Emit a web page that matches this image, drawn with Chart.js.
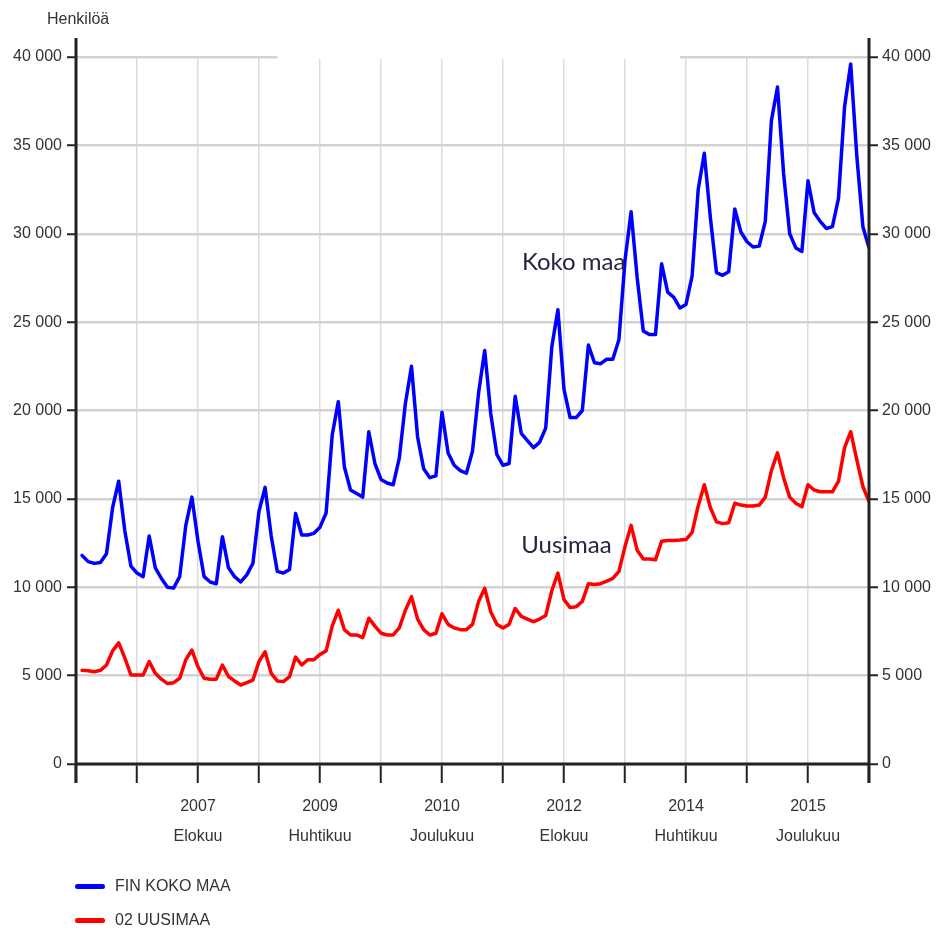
<!DOCTYPE html>
<html>
<head>
<meta charset="utf-8">
<script src="https://cdn.jsdelivr.net/npm/chart.js@4.4.1/dist/chart.umd.min.js"></script>
<style>
  html, body { margin: 0; background: #fff; }
  #wrap { position: relative; width: 937px; height: 930px; }
  #unit {
    position: absolute; left: 47px; top: 10px;
    font: 16px 'Liberation Sans', Arial, sans-serif;
    color: #333;
  }
  #legend { position: absolute; left: 75px; top: 869px; }
  .item {
    display: flex; align-items: center; height: 34px;
    font: 16px 'Liberation Sans', Arial, sans-serif;
    color: #333;
  }
  .swatch { width: 30px; height: 5px; border-radius: 3px; margin-right: 10px; }
</style>
</head>
<body>
<div id="wrap">
  <canvas id="chart" width="937" height="930"></canvas>
  <div id="unit">Henkilöä</div>
  <div id="legend"></div>
</div>
<script>
// kuukaudet: 1 = tammikuu 2006 ... 130 = lokakuu 2016 (0 = joulukuu 2005)
const firstMonth = 1;

const seriesNames = ['FIN KOKO MAA', '02 UUSIMAA'];
const seriesColors = ['#0000ff', '#ff0000'];

const kokoMaa = [
  11800, 11450, 11350, 11400, 11900, 14500, 16000, 13200, 11200, 10800, 10600, 12900,
  11100, 10500, 10000, 9950, 10600, 13500, 15100, 12600, 10600, 10300, 10200, 12860,
  11100, 10600, 10300, 10700, 11350, 14300, 15650, 12900, 10900, 10800, 11000, 14180,
  12960, 12960, 13050, 13400, 14200, 18600, 20500, 16800, 15500, 15300, 15100, 18800,
  17000, 16100, 15900, 15800, 17300, 20400, 22500, 18500, 16700, 16200, 16300, 19900,
  17600, 16900, 16600, 16450, 17700, 21000, 23400, 19800, 17500, 16900, 17000, 20800,
  18700, 18300, 17900, 18200, 19000, 23600, 25700, 21200, 19600, 19600, 20000, 23700,
  22700, 22650, 22900, 22900, 24000, 28500, 31250, 27500, 24500, 24300, 24300, 28300,
  26700, 26400, 25800, 26000, 27600, 32500, 34550, 30900, 27800, 27650, 27850, 31400,
  30100, 29550, 29250, 29300, 30700, 36400, 38300, 33400, 30000, 29200, 29000, 33000,
  31200, 30700, 30300, 30400, 32000, 37200, 39600, 34400, 30400, 29200
];

const uusimaa = [
  5300, 5280, 5220, 5300, 5600, 6400, 6850, 6000, 5040, 5040, 5040, 5800,
  5130, 4800, 4550, 4600, 4850, 5900, 6450, 5500, 4850, 4800, 4800, 5600,
  4950, 4700, 4470, 4600, 4750, 5800, 6350, 5130, 4700, 4660, 4940, 6050,
  5600, 5900, 5900, 6200, 6400, 7800, 8700, 7600, 7300, 7300, 7150, 8250,
  7800, 7400, 7300, 7300, 7700, 8700, 9470, 8200, 7600, 7300, 7400, 8500,
  7900, 7700, 7600, 7600, 7900, 9200, 9940, 8600, 7900, 7700, 7900, 8800,
  8350, 8200, 8050, 8200, 8400, 9800, 10800, 9300, 8850, 8900, 9200, 10200,
  10150, 10200, 10350, 10500, 10900, 12300, 13500, 12100, 11600, 11600, 11550, 12600,
  12650, 12650, 12670, 12700, 13100, 14600, 15800, 14500, 13700, 13600, 13650, 14750,
  14650, 14600, 14600, 14650, 15100, 16600, 17600, 16200, 15100, 14750, 14550, 15800,
  15500, 15400, 15400, 15400, 16000, 17900, 18800, 17200, 15700, 14850
];

// x-akselin nimetyt kohdat
const xLabelPos = [20, 40, 60, 80, 100, 120];
const xLabelYear = ['2007', '2009', '2010', '2012', '2014', '2015'];
const xLabelMonth = ['Elokuu', 'Huhtikuu', 'Joulukuu', 'Elokuu', 'Huhtikuu', 'Joulukuu'];

const yTicks = [0, 5000, 10000, 15000, 20000, 25000, 30000, 35000, 40000];

// tekstit kuvan sisällä (kuukausi, henkilöä)
const notes = [
  { text: 'Koko maa', x: 73.1, y: 28400 },
  { text: 'Uusimaa', x: 73.0, y: 12400 }
];

// ylin ruudukkoviiva puuttuu tältä väliltä (kuukaudet)
const topGridGap = [33, 99];

const labelFont = "'Liberation Sans', Arial, sans-serif";

const toPoints = arr => arr.map((v, k) => ({ x: firstMonth + k, y: v }));
const fmt = v => String(v).replace(/\B(?=(\d{3})+(?!\d))/g, ' ');

/**
 * Akselien viivat jatkuvat hieman piirtoalueen yli, lisäksi tekstit
 */
const overlay = {
  id: 'overlay',
  beforeDatasetsDraw(chart) {
    const { ctx, scales } = chart;
    const yTop = scales.y.getPixelForValue(40000);
    ctx.save();
    ctx.strokeStyle = '#fff';
    ctx.lineWidth = 4;
    ctx.beginPath();
    ctx.moveTo(scales.x.getPixelForValue(topGridGap[0]), yTop);
    ctx.lineTo(scales.x.getPixelForValue(topGridGap[1]), yTop);
    ctx.stroke();
    ctx.restore();
  },
  afterDraw(chart) {
    const { ctx, chartArea: a, scales } = chart;
    ctx.save();
    ctx.strokeStyle = '#222';
    ctx.lineWidth = 3;
    ctx.beginPath();
    ctx.moveTo(a.left, a.top - 19);
    ctx.lineTo(a.left, a.bottom + 19);
    ctx.moveTo(a.right, a.top - 19);
    ctx.lineTo(a.right, a.bottom + 19);
    ctx.moveTo(a.left, a.bottom);
    ctx.lineTo(a.right, a.bottom);
    ctx.stroke();

    ctx.fillStyle = '#2b2340';
    ctx.font = "24px Lato, 'Open Sans', sans-serif";
    ctx.textAlign = 'left';
    ctx.textBaseline = 'middle';
    notes.forEach(n => {
      ctx.fillText(n.text, scales.x.getPixelForValue(n.x), scales.y.getPixelForValue(n.y));
    });
    ctx.restore();
  }
};

const yScale = (position, width, padding) => ({
  position,
  min: 0,
  max: 40000,
  afterFit(s) { s.width = width; },
  afterBuildTicks(s) { s.ticks = yTicks.map(v => ({ value: v })); },
  ticks: {
    padding,
    color: '#333',
    font: { family: labelFont, size: 16 },
    callback: v => fmt(v)
  },
  grid: {
    drawOnChartArea: position === 'left',
    color: '#d2d2d2',
    lineWidth: 2.5,
    tickColor: '#222',
    tickLength: 9,
    tickWidth: 2
  },
  border: { display: false }
});

new Chart(document.getElementById('chart'), {
  type: 'line',
  data: {
    datasets: [
      { label: seriesNames[0], data: toPoints(kokoMaa), borderColor: seriesColors[0] },
      { label: seriesNames[1], data: toPoints(uusimaa), borderColor: seriesColors[1] }
    ]
  },
  options: {
    responsive: false,
    animation: false,
    layout: { padding: { top: 57, left: 0, right: 0, bottom: 0 } },
    elements: {
      line: { borderWidth: 3.5, tension: 0, borderJoinStyle: 'round', borderCapStyle: 'round' },
      point: { radius: 0 }
    },
    plugins: { legend: { display: false }, tooltip: { enabled: false } },
    scales: {
      x: {
        type: 'linear',
        min: 0,
        max: 130,
        afterFit(s) { s.height = 166; },
        ticks: {
          stepSize: 10,
          autoSkip: false,
          maxRotation: 0,
          padding: 9,
          color: '#333',
          font: { family: labelFont, size: 16, lineHeight: 1.85 },
          callback: v => {
            const k = xLabelPos.indexOf(v);
            return k < 0 ? '' : [xLabelYear[k], xLabelMonth[k]];
          }
        },
        grid: {
          color: '#dcdcdc',
          lineWidth: 1.5,
          tickColor: '#222',
          tickLength: 19,
          tickWidth: 2
        },
        border: { display: false }
      },
      y: yScale('left', 76, 5),
      y2: yScale('right', 68, 4)
    }
  },
  plugins: [overlay]
});

// selite
const legendEl = document.getElementById('legend');
seriesNames.forEach((name, k) => {
  const row = document.createElement('div');
  row.className = 'item';
  row.innerHTML = `<span class="swatch" style="background:${seriesColors[k]}"></span>${name}`;
  legendEl.appendChild(row);
});
</script>
</body>
</html>
